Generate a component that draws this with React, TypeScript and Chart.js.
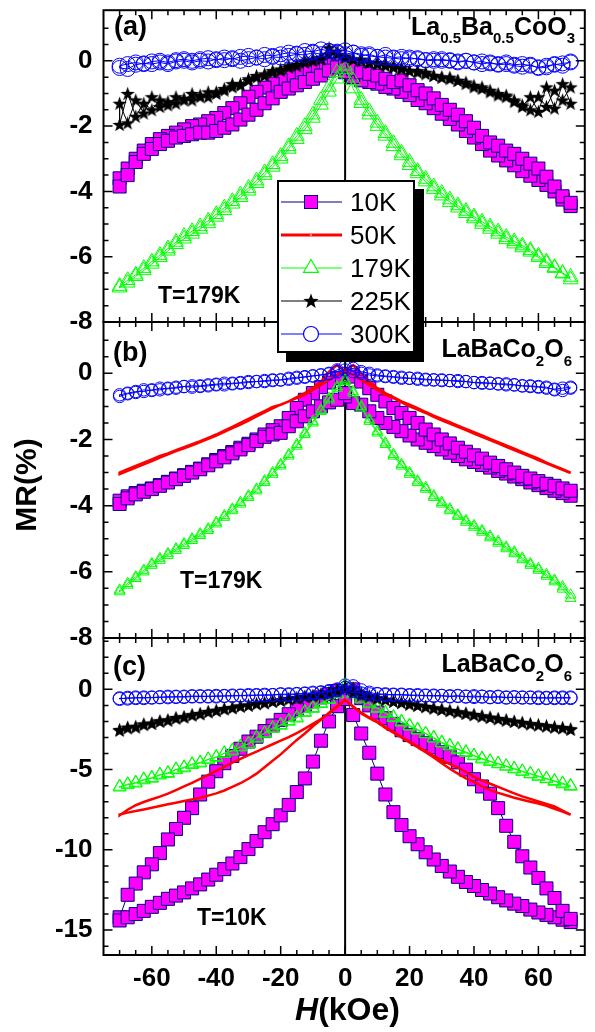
import React, { useEffect, useRef } from "react";
import { Chart, registerables } from "chart.js";
Chart.register(...registerables);

const FONT = "'Liberation Sans', Arial, Helvetica, sans-serif";

// ---------- shared axes ----------
const H_KOE = [
  -70, -67.5, -65, -62.5, -60, -57.5, -55, -52.5, -50, -47.5,
  -45, -42.5, -40, -37.5, -35, -32.5, -30, -27.5, -25, -22.5,
  -20, -17.5, -15, -12.5, -10, -7.5, -5, -2.5, 0, 2.5,
  5, 7.5, 10, 12.5, 15, 17.5, 20, 22.5, 25, 27.5,
  30, 32.5, 35, 37.5, 40, 42.5, 45, 47.5, 50, 52.5,
  55, 57.5, 60, 62.5, 65, 67.5, 70,
];
const X_MAJOR = [-60, -40, -20, 0, 20, 40, 60];
const X_MINOR = [-70, -65, -55, -50, -45, -35, -30, -25, -15, -10, -5, 5, 10, 15, 25, 30, 35, 45, 50, 55, 65, 70];
const Y_MAJOR_AB = [-8, -6, -4, -2, 0];
const Y_MINOR_AB = [1, 0.5, -0.5, -1, -1.5, -2.5, -3, -3.5, -4.5, -5, -5.5, -6.5, -7, -7.5];
const Y_MAJOR_C = [-15, -10, -5, 0];
const Y_MINOR_C = [3, 2, 1, -1, -2, -3, -4, -6, -7, -8, -9, -11, -12, -13, -14, -16];
const X_RANGE = [-75, 74.4];
const Y_RANGE_AB = [-8, 1.55];
const Y_RANGE_C = [-16.55, 3.2];

const LEGEND_LABELS = ["10K", "50K", "179K", "225K", "300K"];

// ---------- panel (a) La0.5Ba0.5CoO3, values listed in ascending H ----------
const A_10K_DOWN = [
  -3.6, -3.3, -3.0, -2.75, -2.55, -2.4, -2.3, -2.2, -2.1, -2.0,
  -1.95, -1.85, -1.75, -1.6, -1.45, -1.3, -1.1, -0.95, -0.82, -0.7,
  -0.6, -0.45, -0.3, -0.3, -0.2, -0.15, -0.1, -0.2, -0.35, -0.5,
  -0.6, -0.65, -0.7, -0.8, -0.85, -0.95, -1.05, -1.2, -1.3, -1.45,
  -1.62, -1.78, -1.95, -2.15, -2.35, -2.55, -2.75, -2.9, -3.05, -3.2,
  -3.38, -3.52, -3.65, -3.8, -4.0, -4.25, -4.45,
];
const A_10K_UP = [
  -3.85, -3.5, -3.1, -2.85, -2.7, -2.55, -2.45, -2.35, -2.3, -2.25,
  -2.2, -2.2, -2.15, -2.05, -1.95, -1.8, -1.65, -1.5, -1.3, -1.15,
  -0.95, -0.85, -0.75, -0.65, -0.55, -0.45, -0.3, -0.2, -0.15, -0.25,
  -0.35, -0.4, -0.45, -0.55, -0.65, -0.6, -0.75, -0.9, -1.0, -1.15,
  -1.35, -1.5, -1.65, -1.85, -2.05, -2.3, -2.5, -2.6, -2.75, -2.85,
  -3.0, -3.15, -3.3, -3.55, -3.85, -4.15, -4.35,
];
const A_179K_DOWN = [
  -6.9, -6.72, -6.55, -6.35, -6.15, -5.95, -5.75, -5.55, -5.37, -5.22,
  -5.07, -4.9, -4.7, -4.5, -4.3, -4.1, -3.9, -3.67, -3.42, -3.17,
  -2.92, -2.62, -2.3, -2.0, -1.65, -1.2, -0.8, -0.35, -0.15, -0.85,
  -1.3, -1.65, -2.0, -2.3, -2.62, -2.9, -3.2, -3.45, -3.7, -3.93,
  -4.13, -4.33, -4.5, -4.67, -4.83, -5.0, -5.15, -5.3, -5.47, -5.6,
  -5.72, -5.85, -6.02, -6.2, -6.35, -6.52, -6.7,
];
const A_179K_UP = [
  -6.95, -6.8, -6.6, -6.42, -6.22, -6.02, -5.82, -5.62, -5.45, -5.3,
  -5.15, -4.98, -4.78, -4.58, -4.38, -4.18, -3.98, -3.75, -3.5, -3.25,
  -3.0, -2.7, -2.4, -2.1, -1.75, -1.35, -0.95, -0.55, -0.25, -0.6,
  -1.2, -1.55, -1.9, -2.22, -2.52, -2.82, -3.1, -3.38, -3.62, -3.85,
  -4.05, -4.25, -4.43, -4.6, -4.77, -4.93, -5.08, -5.23, -5.4, -5.53,
  -5.66, -5.8, -5.97, -6.15, -6.32, -6.5, -6.62,
];
const A_225K_DOWN = [
  -1.3, -1.9, -1.2, -1.6, -1.1, -1.4, -1.25, -1.3, -1.15, -1.2,
  -1.05, -1.1, -0.95, -0.9, -0.8, -0.75, -0.6, -0.5, -0.45, -0.35,
  -0.25, -0.2, -0.1, -0.05, 0.0, 0.1, 0.4, 0.2, 0.1, 0.05,
  0.0, -0.05, -0.1, -0.15, -0.2, -0.25, -0.3, -0.35, -0.4, -0.45,
  -0.5, -0.55, -0.6, -0.7, -0.75, -0.85, -0.9, -1.0, -1.1, -1.2,
  -1.35, -1.5, -1.1, -1.4, -0.9, -1.2, -0.8,
];
const A_225K_UP = [
  -1.95, -1.0, -1.7, -1.3, -1.5, -1.2, -1.35, -1.1, -1.2, -1.0,
  -1.1, -0.95, -1.0, -0.85, -0.7, -0.7, -0.55, -0.45, -0.4, -0.3,
  -0.3, -0.15, -0.15, 0.0, 0.05, 0.05, 0.2, 0.3, 0.15, 0.05,
  0.05, -0.05, -0.05, -0.1, -0.15, -0.2, -0.3, -0.3, -0.35, -0.45,
  -0.5, -0.5, -0.6, -0.65, -0.8, -0.8, -0.95, -1.05, -1.05, -1.25,
  -1.4, -1.1, -1.55, -0.8, -1.45, -0.7, -1.3,
];
const A_300K_DOWN = [
  -0.22, -0.25, -0.12, -0.08, -0.1, -0.05, -0.1, -0.02, 0.0, -0.05,
  0.0, -0.02, 0.05, 0.02, 0.08, 0.0, 0.05, 0.1, 0.05, 0.12,
  0.1, 0.15, 0.2, 0.18, 0.25, 0.2, 0.3, 0.28, 0.32, 0.25,
  0.2, 0.15, 0.12, 0.1, 0.08, 0.05, 0.1, 0.05, 0.02, 0.0,
  0.05, 0.0, -0.02, 0.0, -0.05, -0.02, -0.08, -0.1, -0.05, -0.12,
  -0.1, -0.15, -0.2, -0.15, -0.12, -0.08, -0.05,
];
const A_300K_UP = [
  -0.15, -0.1, -0.05, -0.1, -0.02, 0.0, -0.05, 0.02, 0.05, 0.0,
  0.05, 0.08, 0.02, 0.1, 0.05, 0.12, 0.15, 0.1, 0.18, 0.15,
  0.2, 0.25, 0.22, 0.3, 0.28, 0.35, 0.3, 0.25, 0.2, 0.25,
  0.15, 0.2, 0.12, 0.18, 0.1, 0.12, 0.05, 0.08, 0.02, 0.05,
  0.0, 0.02, -0.05, 0.0, -0.05, -0.1, -0.05, -0.12, -0.1, -0.15,
  -0.18, -0.12, -0.22, -0.2, -0.1, -0.15, -0.02,
];

// ---------- panel (b) LaBaCo2O6 ----------
const B_10K_DOWN = [
  -3.85, -3.72, -3.62, -3.55, -3.48, -3.38, -3.28, -3.18, -3.08, -2.98,
  -2.88, -2.75, -2.62, -2.5, -2.38, -2.25, -2.13, -2.0, -1.85, -1.72,
  -1.6, -1.35, -1.05, -0.8, -0.6, -0.42, -0.28, -0.15, -0.7, -0.9,
  -0.95, -1.15, -1.35, -1.5, -1.62, -1.75, -1.88, -2.0, -2.1, -2.2,
  -2.3, -2.4, -2.5, -2.6, -2.68, -2.77, -2.85, -2.95, -3.03, -3.12,
  -3.2, -3.3, -3.38, -3.47, -3.55, -3.62, -3.7,
];
const B_10K_UP = [
  -3.95, -3.78, -3.66, -3.58, -3.5, -3.4, -3.3, -3.2, -3.1, -3.0,
  -2.9, -2.78, -2.66, -2.54, -2.42, -2.3, -2.17, -2.05, -1.92, -1.85,
  -1.8, -1.6, -1.45, -1.3, -1.15, -1.0, -0.88, -0.8, -0.6, -0.1,
  -0.25, -0.45, -0.65, -0.85, -1.05, -1.2, -1.35, -1.5, -1.7, -1.85,
  -2.0, -2.12, -2.25, -2.37, -2.48, -2.58, -2.7, -2.8, -2.9, -3.0,
  -3.1, -3.18, -3.26, -3.34, -3.4, -3.48, -3.55,
];
const B_50K_DOWN = [
  -3.0, -2.9, -2.8, -2.7, -2.6, -2.5, -2.42, -2.32, -2.23, -2.14,
  -2.05, -1.95, -1.85, -1.73, -1.62, -1.5, -1.38, -1.26, -1.14, -1.02,
  -0.95, -0.85, -0.72, -0.6, -0.45, -0.25, 0.05, 0.25, 0.05, -0.05,
  -0.2, -0.35, -0.5, -0.65, -0.75, -0.88, -1.0, -1.1, -1.2, -1.32,
  -1.42, -1.52, -1.62, -1.72, -1.82, -1.92, -2.02, -2.12, -2.22, -2.32,
  -2.42, -2.52, -2.62, -2.72, -2.82, -2.92, -3.02,
];
const B_50K_UP = [
  -3.05, -2.95, -2.85, -2.75, -2.65, -2.55, -2.45, -2.35, -2.27, -2.18,
  -2.08, -1.98, -1.88, -1.77, -1.66, -1.55, -1.43, -1.3, -1.18, -1.06,
  -0.95, -0.85, -0.75, -0.65, -0.5, -0.35, -0.2, -0.05, 0.1, 0.25,
  0.0, -0.25, -0.45, -0.6, -0.72, -0.85, -0.95, -1.05, -1.17, -1.28,
  -1.38, -1.48, -1.58, -1.68, -1.78, -1.88, -1.98, -2.08, -2.18, -2.28,
  -2.38, -2.48, -2.58, -2.7, -2.8, -2.9, -3.0,
];
const B_179K_DOWN = [
  -6.55, -6.35, -6.15, -5.95, -5.75, -5.6, -5.45, -5.3, -5.15, -5.0,
  -4.85, -4.7, -4.5, -4.3, -4.1, -3.9, -3.7, -3.5, -3.25, -3.0,
  -2.75, -2.45, -2.15, -1.8, -1.45, -1.1, -0.75, -0.4, -0.2, -0.55,
  -1.0, -1.4, -1.75, -2.1, -2.45, -2.75, -3.0, -3.25, -3.45, -3.7,
  -3.9, -4.1, -4.28, -4.45, -4.6, -4.75, -4.92, -5.08, -5.25, -5.4,
  -5.58, -5.75, -5.9, -6.08, -6.25, -6.45, -6.7,
];
const B_179K_UP = [
  -6.6, -6.4, -6.2, -6.0, -5.8, -5.65, -5.5, -5.35, -5.2, -5.05,
  -4.9, -4.75, -4.55, -4.35, -4.15, -3.95, -3.75, -3.55, -3.3, -3.05,
  -2.8, -2.5, -2.2, -1.85, -1.5, -1.15, -0.8, -0.45, -0.25, -0.6,
  -1.05, -1.45, -1.8, -2.15, -2.5, -2.8, -3.05, -3.3, -3.5, -3.75,
  -3.95, -4.15, -4.32, -4.5, -4.65, -4.8, -4.97, -5.13, -5.3, -5.45,
  -5.63, -5.8, -5.95, -6.13, -6.3, -6.52, -6.8,
];
const B_300K_DOWN = [
  -0.65, -0.6, -0.55, -0.55, -0.5, -0.5, -0.45, -0.45, -0.4, -0.42,
  -0.4, -0.38, -0.35, -0.35, -0.3, -0.3, -0.28, -0.25, -0.25, -0.22,
  -0.2, -0.18, -0.15, -0.1, -0.08, -0.05, 0.0, 0.1, 0.2, 0.05,
  0.0, -0.05, -0.08, -0.1, -0.12, -0.15, -0.15, -0.18, -0.2, -0.2,
  -0.22, -0.22, -0.25, -0.25, -0.28, -0.3, -0.3, -0.32, -0.35, -0.35,
  -0.38, -0.4, -0.42, -0.45, -0.48, -0.45, -0.42,
];
const B_300K_UP = [
  -0.7, -0.62, -0.58, -0.5, -0.52, -0.45, -0.47, -0.42, -0.4, -0.38,
  -0.38, -0.35, -0.33, -0.3, -0.32, -0.28, -0.25, -0.25, -0.22, -0.2,
  -0.2, -0.15, -0.12, -0.12, -0.08, -0.05, -0.02, 0.05, 0.1, 0.15,
  0.05, 0.0, -0.05, -0.08, -0.1, -0.12, -0.15, -0.15, -0.18, -0.2,
  -0.2, -0.22, -0.22, -0.25, -0.28, -0.28, -0.3, -0.32, -0.32, -0.35,
  -0.38, -0.38, -0.4, -0.42, -0.5, -0.52, -0.45,
];

// ---------- panel (c) LaBaCo2O6, T=10K ----------
const C_10K_DOWN = [
  -14.2, -12.8, -12.1, -11.4, -10.9, -10.2, -9.35, -8.7, -8.0, -7.4,
  -6.55, -5.75, -5.1, -4.6, -4.15, -3.7, -3.25, -2.95, -2.6, -2.25,
  -1.9, -1.55, -1.25, -1.0, -0.75, -0.5, -0.3, -0.1, -0.5, -1.6,
  -2.75, -3.95, -5.25, -6.55, -7.65, -8.45, -9.15, -9.65, -10.15, -10.6,
  -11.0, -11.35, -11.68, -12.0, -12.25, -12.5, -12.72, -12.95, -13.15, -13.35,
  -13.5, -13.72, -13.9, -14.05, -14.2, -14.35, -14.5,
];
const C_10K_UP = [
  -14.4, -14.2, -14.0, -13.8, -13.55, -13.3, -13.05, -12.85, -12.65, -12.4,
  -12.15, -11.85, -11.55, -11.2, -10.85, -10.45, -9.95, -9.45, -8.9, -8.4,
  -7.85, -7.2, -6.4, -5.55, -4.5, -3.2, -2.0, -1.05, -0.6, 0.0,
  -0.55, -1.0, -1.45, -1.8, -2.15, -2.55, -2.85, -3.1, -3.35, -3.62,
  -3.9, -4.2, -4.55, -5.0, -5.6, -6.05, -6.5, -7.4, -8.5, -9.5,
  -10.4, -11.1, -11.75, -12.4, -13.0, -13.8, -14.3,
];
const C_50K_DOWN = [
  -7.8, -7.68, -7.58, -7.48, -7.38, -7.27, -7.16, -7.06, -6.96, -6.86,
  -6.75, -6.62, -6.48, -6.3, -6.08, -5.85, -5.57, -5.25, -4.85, -4.45,
  -4.05, -3.6, -3.15, -2.75, -2.3, -1.9, -1.45, -1.05, -0.65, -1.1,
  -1.45, -1.75, -2.0, -2.35, -2.65, -2.95, -3.25, -3.55, -3.85, -4.15,
  -4.42, -4.65, -4.87, -5.15, -5.45, -5.68, -5.88, -6.08, -6.28, -6.48,
  -6.67, -6.82, -6.98, -7.14, -7.3, -7.55, -7.8,
];
const C_50K_UP = [
  -7.85, -7.5, -7.22, -7.02, -6.85, -6.68, -6.5, -6.28, -6.05, -5.82,
  -5.58, -5.33, -5.08, -4.83, -4.57, -4.33, -4.1, -3.88, -3.65, -3.42,
  -3.2, -2.98, -2.72, -2.45, -2.15, -1.85, -1.5, -1.1, -0.68, -1.05,
  -1.5, -1.8, -2.05, -2.4, -2.7, -3.0, -3.3, -3.6, -3.92, -4.25,
  -4.6, -4.95, -5.25, -5.55, -5.77, -6.05, -6.28, -6.45, -6.6, -6.75,
  -6.88, -7.0, -7.12, -7.25, -7.45, -7.62, -7.82,
];
const C_179K_DOWN = [
  -6.05, -5.95, -5.8, -5.65, -5.5, -5.35, -5.2, -5.02, -4.85, -4.7,
  -4.55, -4.38, -4.2, -4.0, -3.8, -3.6, -3.38, -3.05, -2.72, -2.45,
  -2.2, -2.0, -1.75, -1.45, -1.15, -0.9, -0.6, -0.3, 0.25, -0.3,
  -0.6, -0.92, -1.2, -1.5, -1.77, -2.05, -2.3, -2.55, -2.78, -3.05,
  -3.35, -3.55, -3.75, -3.95, -4.15, -4.35, -4.5, -4.65, -4.8, -4.97,
  -5.12, -5.28, -5.43, -5.58, -5.74, -5.9, -6.05,
];
const C_179K_UP = [
  -6.1, -5.9, -5.85, -5.6, -5.55, -5.3, -5.25, -4.98, -4.9, -4.65,
  -4.6, -4.35, -4.25, -3.97, -3.85, -3.55, -3.42, -3.0, -2.75, -2.4,
  -2.25, -1.95, -1.8, -1.4, -1.2, -0.85, -0.65, -0.25, 0.2, -0.2,
  -0.5, -0.85, -1.15, -1.45, -1.72, -2.0, -2.25, -2.5, -2.75, -3.0,
  -3.3, -3.5, -3.72, -3.9, -4.12, -4.3, -4.47, -4.62, -4.78, -4.93,
  -5.1, -5.25, -5.4, -5.55, -5.7, -5.85, -6.0,
];
const C_225K_DOWN = [
  -2.5, -2.4, -2.3, -2.2, -2.1, -2.0, -1.9, -1.8, -1.7, -1.6,
  -1.5, -1.4, -1.3, -1.22, -1.13, -1.05, -0.97, -0.9, -0.82, -0.75,
  -0.67, -0.6, -0.52, -0.45, -0.38, -0.3, -0.2, 0.0, 0.1, -0.2,
  -0.35, -0.45, -0.55, -0.65, -0.75, -0.83, -0.92, -1.0, -1.08, -1.17,
  -1.25, -1.33, -1.41, -1.5, -1.58, -1.67, -1.75, -1.83, -1.92, -2.0,
  -2.08, -2.15, -2.22, -2.28, -2.33, -2.38, -2.45,
];
const C_225K_UP = [
  -2.55, -2.35, -2.35, -2.15, -2.12, -1.95, -1.92, -1.75, -1.72, -1.58,
  -1.52, -1.38, -1.32, -1.2, -1.15, -1.03, -0.99, -0.88, -0.84, -0.73,
  -0.69, -0.58, -0.54, -0.43, -0.4, -0.28, -0.22, -0.1, 0.05, 0.1,
  -0.2, -0.4, -0.52, -0.62, -0.73, -0.8, -0.9, -0.98, -1.06, -1.15,
  -1.23, -1.31, -1.4, -1.48, -1.57, -1.65, -1.73, -1.82, -1.9, -1.98,
  -2.06, -2.14, -2.2, -2.27, -2.35, -2.4, -2.5,
];
const C_300K_DOWN = [
  -0.55, -0.58, -0.5, -0.55, -0.5, -0.48, -0.5, -0.45, -0.48, -0.45,
  -0.45, -0.42, -0.45, -0.4, -0.42, -0.38, -0.4, -0.35, -0.38, -0.35,
  -0.32, -0.35, -0.3, -0.28, -0.25, -0.2, -0.15, 0.0, 0.25, -0.1,
  -0.25, -0.3, -0.3, -0.35, -0.32, -0.35, -0.38, -0.35, -0.4, -0.38,
  -0.4, -0.42, -0.4, -0.45, -0.42, -0.45, -0.48, -0.45, -0.5, -0.48,
  -0.5, -0.52, -0.5, -0.55, -0.5, -0.55, -0.5,
];
const C_300K_UP = [
  -0.6, -0.52, -0.55, -0.5, -0.52, -0.5, -0.45, -0.48, -0.45, -0.42,
  -0.42, -0.45, -0.4, -0.42, -0.38, -0.4, -0.35, -0.38, -0.33, -0.35,
  -0.3, -0.3, -0.28, -0.25, -0.2, -0.18, -0.1, -0.05, 0.1, 0.2,
  -0.05, -0.2, -0.28, -0.3, -0.35, -0.32, -0.35, -0.4, -0.38, -0.42,
  -0.4, -0.45, -0.42, -0.45, -0.48, -0.45, -0.5, -0.48, -0.52, -0.5,
  -0.52, -0.5, -0.55, -0.52, -0.55, -0.5, -0.55,
];

// ---------- helpers ----------
// sweep +70 -> -70 (down branch) then -70 -> +70 (up branch)
function loop(down: number[], up: number[]) {
  const pts: { x: number; y: number }[] = [];
  for (let i = H_KOE.length - 1; i >= 0; i--) pts.push({ x: H_KOE[i], y: down[i] });
  for (let i = 0; i < H_KOE.length; i++) pts.push({ x: H_KOE[i], y: up[i] });
  return pts;
}

function starPoints(cx: number, cy: number, R: number, r: number) {
  const pts: [number, number][] = [];
  for (let i = 0; i < 10; i++) {
    const a = -Math.PI / 2 + (i * Math.PI) / 5;
    const rad = i % 2 ? r : R;
    pts.push([cx + rad * Math.cos(a), cy + rad * Math.sin(a)]);
  }
  return pts;
}

function makeStarImage(size: number) {
  const c = document.createElement("canvas");
  c.width = size;
  c.height = size;
  const ctx = c.getContext("2d")!;
  const pts = starPoints(size / 2, size / 2 + size * 0.05, size / 2, size * 0.2);
  ctx.beginPath();
  pts.forEach(([x, y], i) => (i ? ctx.lineTo(x, y) : ctx.moveTo(x, y)));
  ctx.closePath();
  ctx.fillStyle = "#000";
  ctx.fill();
  return c;
}

const squareStyle = {
  borderColor: "#000080", borderWidth: 1, pointStyle: "rect", pointRadius: 9.2,
  pointBackgroundColor: "#FF00FF", pointBorderColor: "#000080", pointBorderWidth: 1,
};
const redStyle = { borderColor: "#FF0000", borderWidth: 2.5, pointRadius: 0 };
const triStyle = (r: number) => ({
  borderColor: "#00FF00", borderWidth: 1, pointStyle: "triangle", pointRadius: r,
  pointBackgroundColor: "rgba(0,0,0,0)", pointBorderColor: "#00FF00", pointBorderWidth: 1,
});
const circStyle = (r: number) => ({
  borderColor: "#0000FF", borderWidth: 1, pointStyle: "circle", pointRadius: r,
  pointBackgroundColor: "rgba(255,255,255,0)", pointBorderColor: "#0000FF", pointBorderWidth: 1,
});
const starStyle = (img: HTMLCanvasElement) => ({
  borderColor: "#000", borderWidth: 1, pointStyle: img, pointRadius: 7,
});

function makeAxesPlugin(yMajor: number[], yMinor: number[]) {
  return {
    id: "frameAxes",
    beforeDatasetsDraw(chart: any) {
      const { ctx, chartArea: a } = chart;
      const x0 = chart.scales.x.getPixelForValue(0);
      ctx.save();
      ctx.strokeStyle = "#000";
      ctx.lineWidth = 2;
      ctx.beginPath();
      ctx.moveTo(x0, a.top);
      ctx.lineTo(x0, a.bottom);
      ctx.stroke();
      ctx.restore();
    },
    afterDatasetsDraw(chart: any) {
      const { ctx, chartArea: a } = chart;
      const xs = chart.scales.x;
      const ys = chart.scales.y;
      ctx.save();
      ctx.strokeStyle = "#000";
      ctx.lineWidth = 1.5;
      ctx.beginPath();
      const vx = (vals: number[], len: number) =>
        vals.forEach((v) => {
          const p = xs.getPixelForValue(v);
          ctx.moveTo(p, a.bottom);
          ctx.lineTo(p, a.bottom - len);
          ctx.moveTo(p, a.top);
          ctx.lineTo(p, a.top + len);
        });
      const vy = (vals: number[], len: number) =>
        vals.forEach((v) => {
          const p = ys.getPixelForValue(v);
          ctx.moveTo(a.left, p);
          ctx.lineTo(a.left + len, p);
          ctx.moveTo(a.right, p);
          ctx.lineTo(a.right - len, p);
        });
      vx(X_MAJOR, 9);
      vx(X_MINOR, 5);
      vy(yMajor, 9);
      vy(yMinor, 5);
      ctx.stroke();
      ctx.lineWidth = 2;
      ctx.strokeRect(a.left, a.top, a.right - a.left, a.bottom - a.top);
      ctx.restore();
    },
  };
}

const tickFont = { family: FONT, size: 26, weight: "bold" as const };

function buildConfig(o: any) {
  const xScale: any = {
    type: "linear",
    min: X_RANGE[0],
    max: X_RANGE[1],
    display: o.showX,
    grid: { display: false, drawTicks: false },
    border: { display: false },
    afterBuildTicks: (s: any) => {
      s.ticks = X_MAJOR.map((v) => ({ value: v }));
    },
    ticks: { autoSkip: false, maxRotation: 0, minRotation: 0, padding: 8, color: "#000", font: tickFont },
  };
  if (o.showX) {
    xScale.afterFit = (s: any) => {
      s.height = 77;
      s.paddingLeft = 0;
      s.paddingRight = 0;
    };
  }
  return {
    type: "scatter",
    data: { datasets: o.datasets },
    options: {
      animation: false,
      responsive: false,
      devicePixelRatio: 1,
      events: [],
      layout: { padding: o.padding },
      plugins: { legend: { display: false }, tooltip: { enabled: false } },
      scales: {
        x: xScale,
        y: {
          type: "linear",
          position: "left",
          min: o.yRange[0],
          max: o.yRange[1],
          grid: { display: false, drawTicks: false },
          border: { display: false },
          afterBuildTicks: (s: any) => {
            s.ticks = o.yMajor.map((v: number) => ({ value: v }));
          },
          afterFit: (s: any) => {
            s.width = 103.5;
            s.paddingTop = 0;
            s.paddingBottom = 0;
          },
          ticks: { autoSkip: false, padding: 11, color: "#000", font: tickFont },
        },
      },
    },
    plugins: [makeAxesPlugin(o.yMajor, o.yMinor)],
  };
}

function ds(label: string, down: number[], up: number[], style: any, order: number) {
  return { label, data: loop(down, up), showLine: true, tension: 0, order, ...style };
}

function buildA() {
  const star = makeStarImage(15);
  return buildConfig({
    showX: false,
    padding: { top: 4, bottom: 18, left: 0, right: 3 },
    yRange: Y_RANGE_AB, yMajor: Y_MAJOR_AB, yMinor: Y_MINOR_AB,
    datasets: [
      ds("10K", A_10K_DOWN, A_10K_UP, squareStyle, 5),
      ds("179K", A_179K_DOWN, A_179K_UP, triStyle(8.5), 3),
      ds("225K", A_225K_DOWN, A_225K_UP, starStyle(star), 2),
      ds("300K", A_300K_DOWN, A_300K_UP, circStyle(7.5), 1),
    ],
  });
}
function buildB() {
  return buildConfig({
    showX: false,
    padding: { top: 12, bottom: 17, left: 0, right: 3 },
    yRange: Y_RANGE_AB, yMajor: Y_MAJOR_AB, yMinor: Y_MINOR_AB,
    datasets: [
      ds("10K", B_10K_DOWN, B_10K_UP, squareStyle, 5),
      ds("50K", B_50K_DOWN, B_50K_UP, redStyle, 4),
      ds("179K", B_179K_DOWN, B_179K_UP, triStyle(6.2), 3),
      ds("300K", B_300K_DOWN, B_300K_UP, circStyle(6.2), 1),
    ],
  });
}
function buildC() {
  const star = makeStarImage(15);
  return buildConfig({
    showX: true,
    padding: { top: 12, bottom: 0, left: 0, right: 3 },
    yRange: Y_RANGE_C, yMajor: Y_MAJOR_C, yMinor: Y_MINOR_C,
    datasets: [
      ds("10K", C_10K_DOWN, C_10K_UP, squareStyle, 5),
      ds("50K", C_50K_DOWN, C_50K_UP, redStyle, 4),
      ds("179K", C_179K_DOWN, C_179K_UP, triStyle(7.5), 3),
      ds("225K", C_225K_DOWN, C_225K_UP, starStyle(star), 2),
      ds("300K", C_300K_DOWN, C_300K_UP, circStyle(6.5), 1),
    ],
  });
}

function ChartPanel({ top, height, build }: { top: number; height: number; build: () => any }) {
  const ref = useRef<HTMLCanvasElement | null>(null);
  useEffect(() => {
    const chart = new Chart(ref.current as HTMLCanvasElement, build());
    return () => chart.destroy();
  }, []);
  return (
    <canvas
      ref={ref}
      width={595}
      height={height}
      style={{ position: "absolute", left: 0, top, width: 595, height }}
    />
  );
}

const abs = (style: React.CSSProperties): React.CSSProperties => ({
  position: "absolute",
  whiteSpace: "nowrap",
  fontFamily: FONT,
  lineHeight: 1,
  color: "#000",
  ...style,
});

function Sub({ children, shift }: { children: React.ReactNode; shift: number }) {
  return (
    <span style={{ fontSize: 15, position: "relative", top: shift, verticalAlign: "baseline" }}>{children}</span>
  );
}

function LegendSymbol({ idx }: { idx: number }) {
  const cx = 30;
  const cy = 10;
  if (idx === 0)
    return (
      <g>
        <line x1={0} y1={cy} x2={61} y2={cy} stroke="#000080" strokeWidth={1.2} />
        <rect x={cx - 6.5} y={cy - 6.5} width={13} height={13} fill="#FF00FF" stroke="#000080" strokeWidth={1} />
      </g>
    );
  if (idx === 1)
    return (
      <g>
        <line x1={0} y1={cy} x2={61} y2={cy} stroke="#FF0000" strokeWidth={3} />
        <circle cx={cx} cy={cy} r={1.2} fill="#ff8080" />
      </g>
    );
  if (idx === 2)
    return (
      <g>
        <line x1={0} y1={cy} x2={61} y2={cy} stroke="#00FF00" strokeWidth={1.2} />
        <polygon
          points={`${cx},${cy - 8.5} ${cx + 7.4},${cy + 4.3} ${cx - 7.4},${cy + 4.3}`}
          fill="#fff"
          stroke="#00FF00"
          strokeWidth={1.2}
        />
      </g>
    );
  if (idx === 3)
    return (
      <g>
        <line x1={0} y1={cy} x2={61} y2={cy} stroke="#000" strokeWidth={1.2} />
        <polygon points={starPoints(cx, cy + 0.5, 8, 3.3).map((p) => p.join(",")).join(" ")} fill="#000" />
      </g>
    );
  return (
    <g>
      <line x1={0} y1={cy} x2={61} y2={cy} stroke="#0000FF" strokeWidth={1.2} />
      <circle cx={cx} cy={cy} r={7.5} fill="#fff" stroke="#0000FF" strokeWidth={1.2} />
    </g>
  );
}

const LEGEND_ROW_Y = [201.5, 234.5, 267.5, 300.5, 334];

export default function App() {
  return (
    <div style={{ position: "absolute", left: 0, top: 0, width: 595, height: 1032, background: "#fff", overflow: "hidden" }}>
      <ChartPanel top={0} height={340} build={buildA} />
      <ChartPanel top={310} height={345} build={buildB} />
      <ChartPanel top={626} height={406} build={buildC} />

      {/* panel labels */}
      <div style={abs({ left: 114, top: 13.4, fontSize: 27, fontWeight: "bold" })}>(a)</div>
      <div style={abs({ left: 113, top: 339, fontSize: 27, fontWeight: "bold" })}>(b)</div>
      <div style={abs({ left: 113, top: 652.6, fontSize: 27, fontWeight: "bold" })}>(c)</div>

      {/* compound names */}
      <div style={abs({ right: 20, top: 14.3, fontSize: 25, fontWeight: "bold" })}>
        La<Sub shift={8}>0.5</Sub>Ba<Sub shift={8}>0.5</Sub>CoO<Sub shift={8}>3</Sub>
      </div>
      <div style={abs({ right: 23, top: 336, fontSize: 25, fontWeight: "bold" })}>
        LaBaCo<Sub shift={9}>2</Sub>O<Sub shift={9}>6</Sub>
      </div>
      <div style={abs({ right: 23, top: 651, fontSize: 25, fontWeight: "bold" })}>
        LaBaCo<Sub shift={9}>2</Sub>O<Sub shift={9}>6</Sub>
      </div>

      {/* temperatures */}
      <div style={abs({ left: 158, top: 284, fontSize: 23, fontWeight: "bold" })}>T=179K</div>
      <div style={abs({ left: 180, top: 569, fontSize: 23, fontWeight: "bold" })}>T=179K</div>
      <div style={abs({ left: 197, top: 905.5, fontSize: 23, fontWeight: "bold" })}>T=10K</div>

      {/* axis titles */}
      <div
        style={abs({
          left: 26 - 100,
          top: 485 - 15,
          width: 200,
          height: 30,
          textAlign: "center",
          fontSize: 30,
          fontWeight: "bold",
          transform: "rotate(-90deg)",
          transformOrigin: "50% 50%",
        })}
      >
        MR(%)
      </div>
      <div style={abs({ left: 347.5 - 100, top: 993, width: 200, textAlign: "center", fontSize: 32, fontWeight: "bold" })}>
        <i>H</i>(kOe)
      </div>

      {/* legend */}
      <div
        style={{
          position: "absolute",
          left: 277,
          top: 180,
          width: 138,
          height: 173,
          boxSizing: "border-box",
          border: "2px solid #000",
          background: "#fff",
          boxShadow: "9px 9px 0 0 #000",
        }}
      />
      {LEGEND_LABELS.map((lab, i) => (
        <React.Fragment key={lab}>
          <svg
            width={62}
            height={20}
            style={{ position: "absolute", left: 281, top: LEGEND_ROW_Y[i] - 10, overflow: "visible" }}
          >
            <LegendSymbol idx={i} />
          </svg>
          <div style={abs({ left: 350, top: LEGEND_ROW_Y[i] - 12.7, fontSize: 26 })}>{lab}</div>
        </React.Fragment>
      ))}
    </div>
  );
}
